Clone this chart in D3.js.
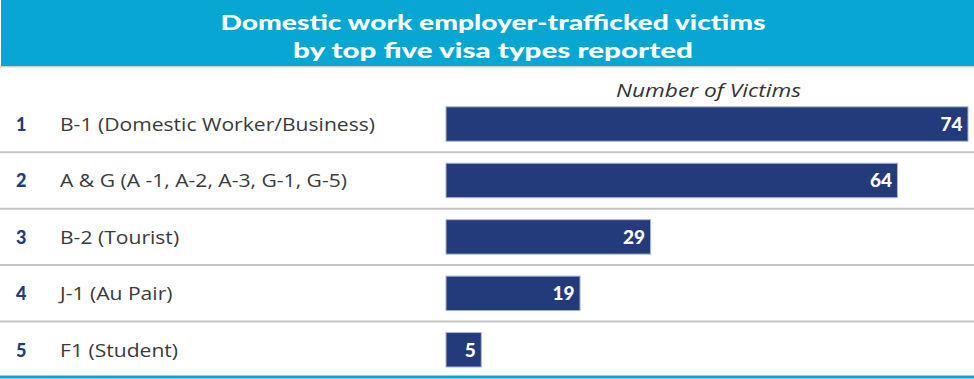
<!DOCTYPE html>
<html><head><meta charset="utf-8">
<script src="https://cdn.jsdelivr.net/npm/d3@7"></script>
<style>body{margin:0;background:#fff}svg{display:block}</style>
</head><body>
<svg id="c" width="974" height="379"></svg>
<script>
const titleLines = ["Domestic work employer-trafficked victims", "by top five visa types reported"];
const ranks = ["1", "2", "3", "4", "5"];
const categories = ["B-1 (Domestic Worker/Business)", "A & G (A -1, A-2, A-3, G-1, G-5)", "B-2 (Tourist)", "J-1 (Au Pair)", "F1 (Student)"];
const values = [74, 64, 29, 19, 5];
const axisTitle = "Number of Victims";

const W = 974, H = 379;
const svg = d3.select("#c");
const navy = "#243b7b", blue = "#07a6d3";

// header
svg.append("rect").attr("x", 1).attr("y", 0).attr("width", W - 1).attr("height", 66).attr("fill", blue);
svg.append("rect").attr("x", 0).attr("y", 66).attr("width", W).attr("height", 1.5).attr("fill", "#d0d0d0");
const tl = [{t: titleLines[0], y: 30, len: 545}, {t: titleLines[1], y: 57.5, len: 400}];
svg.selectAll("text.title").data(tl).join("text").attr("class", "title")
  .attr("x", 493).attr("y", d => d.y).attr("text-anchor", "middle")
  .attr("font-family", "Lato, sans-serif").attr("font-weight", 900).attr("font-size", 21.5)
  .attr("fill", "#fff").attr("textLength", d => d.len).attr("lengthAdjust", "spacingAndGlyphs")
  .text(d => d.t);

const x = d3.scaleLinear().domain([0, 74]).range([446, 968]);
const y = d3.scaleBand().domain(categories).range([95.8, 378]).paddingInner(0.39).paddingOuter(0.195);
const step = y.step();

// axis title
const at = svg.append("text").attr("x", 616).attr("y", 97)
  .attr("font-family", "'Open Sans', sans-serif").attr("font-style", "italic").attr("font-size", 17.5)
  .attr("fill", "#333").text(axisTitle);
at.attr("textLength", 185).attr("lengthAdjust", "spacingAndGlyphs");

// separators
const sepY = d => y(d) + y.bandwidth() + step * 0.195;
svg.selectAll("line.sep").data(categories.slice(0, 4)).join("line").attr("class", "sep")
  .attr("x1", 0).attr("x2", W).attr("y1", sepY).attr("y2", sepY)
  .attr("stroke", "#c4c4c4").attr("stroke-width", 2);
svg.append("line").attr("x1", 0).attr("x2", W)
  .attr("y1", sepY(categories[4]) - 1).attr("y2", sepY(categories[4]) - 1)
  .attr("stroke", blue).attr("stroke-width", 3);

// bars
svg.selectAll("rect.bar").data(values).join("rect").attr("class", "bar")
  .attr("x", x(0)).attr("y", (d, i) => y(categories[i]))
  .attr("width", d => x(d) - x(0)).attr("height", y.bandwidth())
  .attr("fill", navy).attr("stroke", "#aab3d0").attr("stroke-width", 1);

// value labels
svg.selectAll("text.val").data(values).join("text").attr("class", "val")
  .attr("x", d => x(d) - 5.5).attr("y", (d, i) => y(categories[i]) + y.bandwidth() / 2 + 7)
  .attr("text-anchor", "end").attr("font-family", "Lato, sans-serif").attr("font-weight", 900)
  .attr("font-size", 19).attr("fill", "#fff").text(d => d);

// ranks
svg.selectAll("text.rank").data(ranks).join("text").attr("class", "rank")
  .attr("x", 16).attr("y", (d, i) => y(categories[i]) + y.bandwidth() / 2 + 6.8)
  .attr("font-family", "Lato, sans-serif").attr("font-weight", 900).attr("font-size", 18)
  .attr("fill", navy).text(d => d);

// category labels
const cats = svg.selectAll("text.cat").data(categories).join("text").attr("class", "cat")
  .attr("x", 60).attr("y", d => y(d) + y.bandwidth() / 2 + 6.8)
  .attr("font-family", "'Open Sans', sans-serif").attr("font-weight", 400).attr("font-size", 18.5)
  .attr("fill", "#3a3a3a").text(d => d);
const w0 = svg.select("text.cat").node().getComputedTextLength();
const k = 315 / w0;
cats.each(function () {
  const w = this.getComputedTextLength();
  d3.select(this).attr("textLength", (w * k).toFixed(2)).attr("lengthAdjust", "spacingAndGlyphs");
});
</script>
</body></html>
